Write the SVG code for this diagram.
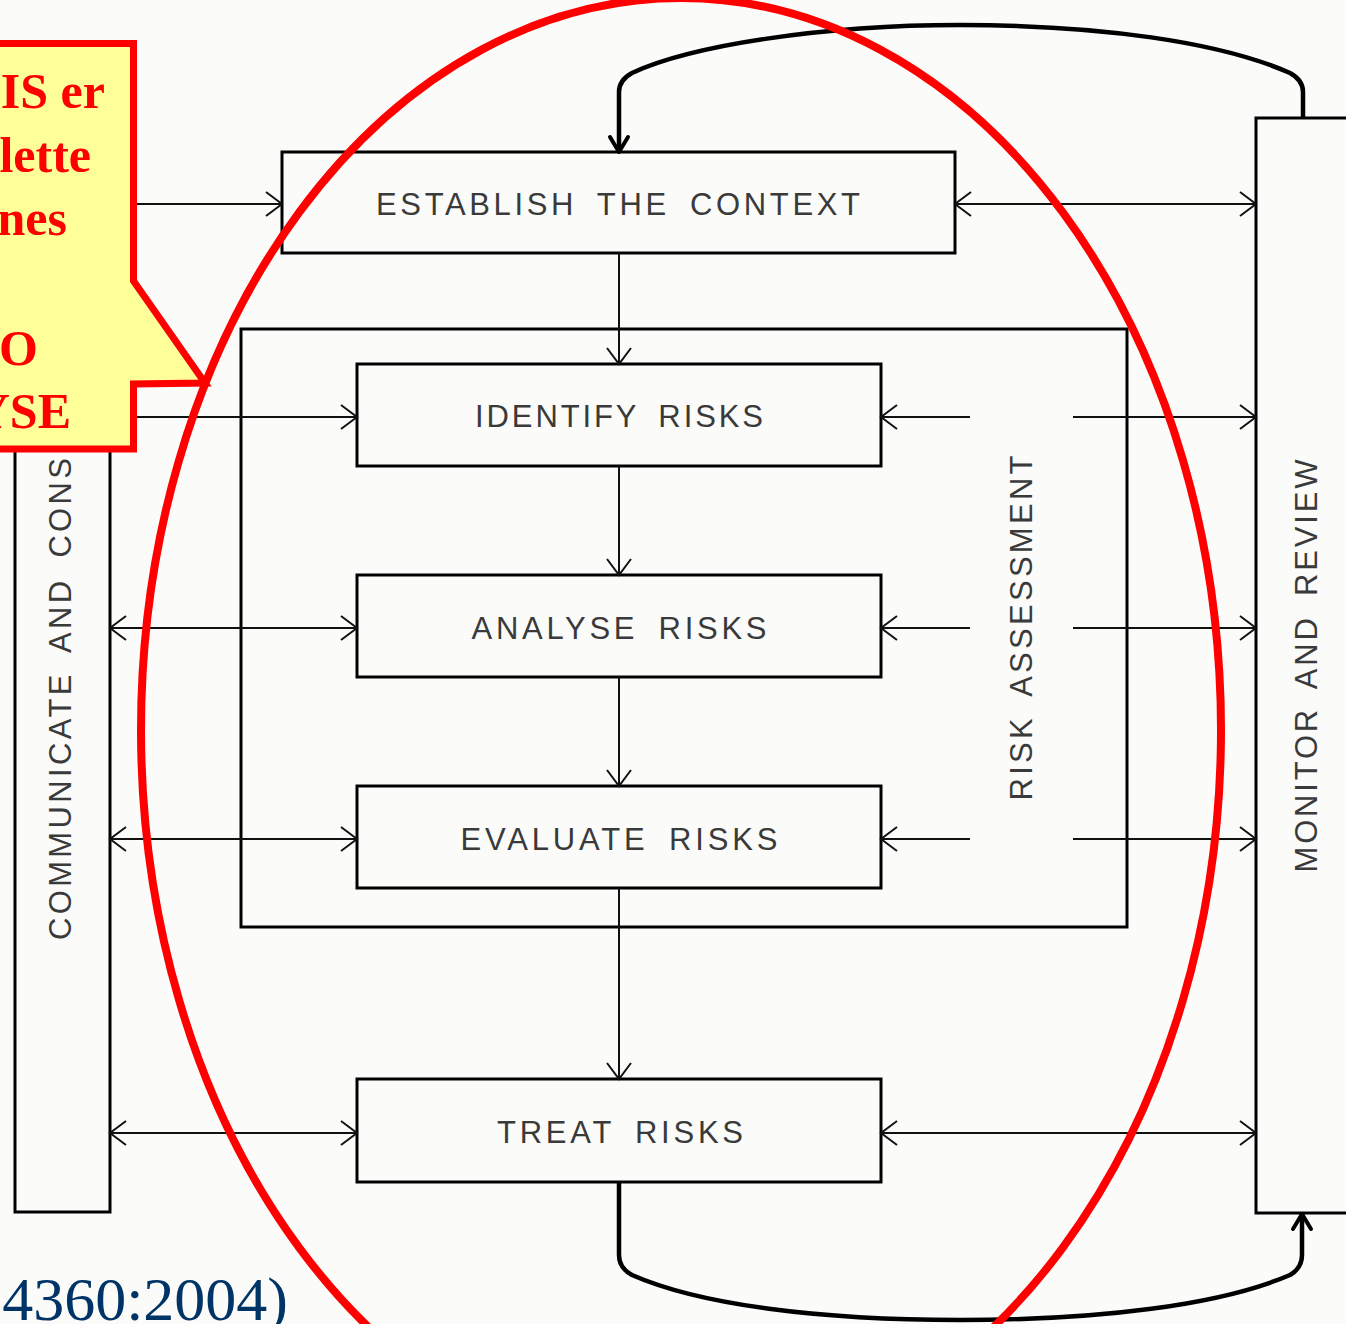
<svg xmlns="http://www.w3.org/2000/svg" width="1346" height="1324" viewBox="0 0 1346 1324">
  <defs>
    <marker id="ah" markerUnits="userSpaceOnUse" markerWidth="24" markerHeight="30" refX="0" refY="0" viewBox="-20 -15 24 30" orient="auto-start-reverse">
      <path d="M-16,-12 L0,0 L-16,12" fill="none" stroke="#111" stroke-width="2"/>
    </marker>
    <marker id="ahb" markerUnits="userSpaceOnUse" markerWidth="24" markerHeight="30" refX="0" refY="0" viewBox="-20 -15 24 30" orient="auto">
      <path d="M-15,-9 L0,0 L-15,9" fill="none" stroke="#000" stroke-width="4" stroke-linecap="round" stroke-linejoin="round"/>
    </marker>
    <style>
      .box { fill: none; stroke: #000; stroke-width: 3; }
      .ln { fill: none; stroke: #111; stroke-width: 2; }
      .fb { fill: none; stroke: #000; stroke-width: 4.5; stroke-linejoin: round; }
      .lbl { font-family: "Liberation Sans", Arial, sans-serif; font-size: 31px; fill: #3a3a3a; text-anchor: middle; word-spacing: 8px; }
      .call { font-family: "Liberation Serif", "Times New Roman", serif; font-weight: bold; font-size: 50px; fill: #ff0000; text-anchor: end; }
    </style>
  </defs>

  <rect x="0" y="0" width="1346" height="1324" fill="#fbfcfa"/>

  <g id="communicate">
    <rect class="box" x="15" y="118" width="95" height="1094"/>
    <text class="lbl" style="text-anchor:start" transform="translate(71,940) rotate(-90)" textLength="482" lengthAdjust="spacing">COMMUNICATE AND CONS</text>
  </g>

  <g id="monitor">
    <rect class="box" x="1256" y="118" width="110" height="1095"/>
    <text class="lbl" transform="translate(1317,666) rotate(-90)" textLength="413" lengthAdjust="spacing">MONITOR AND REVIEW</text>
  </g>

  <g id="risk-assessment">
    <rect class="box" x="241" y="329" width="886" height="598"/>
    <text class="lbl" transform="translate(1032,628) rotate(-90)" textLength="345" lengthAdjust="spacing">RISK ASSESSMENT</text>
  </g>

  <g id="establish">
    <rect class="box" x="282" y="152" width="673" height="101"/>
    <text class="lbl" x="618" y="215" textLength="484" lengthAdjust="spacing">ESTABLISH THE CONTEXT</text>
  </g>

  <g id="identify">
    <rect class="box" x="357" y="364" width="524" height="102"/>
    <text class="lbl" x="619" y="427" textLength="288" lengthAdjust="spacing">IDENTIFY RISKS</text>
  </g>

  <g id="analyse">
    <rect class="box" x="357" y="575" width="524" height="102"/>
    <text class="lbl" x="619" y="639" textLength="295" lengthAdjust="spacing">ANALYSE RISKS</text>
  </g>

  <g id="evaluate">
    <rect class="box" x="357" y="786" width="524" height="102"/>
    <text class="lbl" x="619" y="850" textLength="317" lengthAdjust="spacing">EVALUATE RISKS</text>
  </g>

  <g id="treat">
    <rect class="box" x="357" y="1079" width="524" height="103"/>
    <text class="lbl" x="620" y="1143" textLength="246" lengthAdjust="spacing">TREAT RISKS</text>
  </g>

  <g id="connectors">
    <line class="ln" x1="110" y1="204" x2="282" y2="204" marker-end="url(#ah)"/>
    <line class="ln" x1="955" y1="204" x2="1256" y2="204" marker-start="url(#ah)" marker-end="url(#ah)"/>
    <line class="ln" x1="619" y1="253" x2="619" y2="364" marker-end="url(#ah)"/>

    <line class="ln" x1="110" y1="417" x2="357" y2="417" marker-end="url(#ah)"/>
    <line class="ln" x1="970" y1="417" x2="881" y2="417" marker-end="url(#ah)"/>
    <line class="ln" x1="1073" y1="417" x2="1256" y2="417" marker-end="url(#ah)"/>

    <line class="ln" x1="619" y1="466" x2="619" y2="575" marker-end="url(#ah)"/>

    <line class="ln" x1="110" y1="628" x2="357" y2="628" marker-start="url(#ah)" marker-end="url(#ah)"/>
    <line class="ln" x1="970" y1="628" x2="881" y2="628" marker-end="url(#ah)"/>
    <line class="ln" x1="1073" y1="628" x2="1256" y2="628" marker-end="url(#ah)"/>

    <line class="ln" x1="619" y1="677" x2="619" y2="786" marker-end="url(#ah)"/>

    <line class="ln" x1="110" y1="839" x2="357" y2="839" marker-start="url(#ah)" marker-end="url(#ah)"/>
    <line class="ln" x1="970" y1="839" x2="881" y2="839" marker-end="url(#ah)"/>
    <line class="ln" x1="1073" y1="839" x2="1256" y2="839" marker-end="url(#ah)"/>

    <line class="ln" x1="619" y1="888" x2="619" y2="1079" marker-end="url(#ah)"/>

    <line class="ln" x1="110" y1="1133" x2="357" y2="1133" marker-start="url(#ah)" marker-end="url(#ah)"/>
    <line class="ln" x1="881" y1="1133" x2="1256" y2="1133" marker-start="url(#ah)" marker-end="url(#ah)"/>

    <path class="fb" d="M1303,118 L1303,92 Q1303,80 1290,73 C1220,42 1100,25 960,25 C820,25 690,46 632,73 Q619,80 619,92 L619,152" marker-end="url(#ahb)"/>
    <path class="fb" d="M619,1182 L619,1255 Q619,1268 632,1275 C700,1305 820,1320 960,1320 C1100,1320 1220,1305 1290,1275 Q1302,1268 1302,1255 L1302,1214" marker-end="url(#ahb)"/>
  </g>

  <ellipse id="highlight" cx="681" cy="730" rx="540" ry="732" fill="none" stroke="#ff0000" stroke-width="8"/>

  <g id="callout">
    <polygon points="-10,43.5 133.5,43.5 133.5,281 205,383 133.5,384 133.5,449 -10,449" fill="#ffff99" stroke="#ff0000" stroke-width="7" stroke-linejoin="miter"/>
    <text class="call" x="105" y="108">IS er</text>
    <text class="call" x="91" y="172">lette</text>
    <text class="call" x="67" y="235">nes</text>
    <text class="call" x="38" y="365">O</text>
    <text class="call" x="71" y="428">YSE</text>
  </g>

  <text id="citation" x="288" y="1320" font-family="'Liberation Serif', 'Times New Roman', serif" font-size="62" fill="#003366" text-anchor="end">4360:2004)</text>
</svg>
